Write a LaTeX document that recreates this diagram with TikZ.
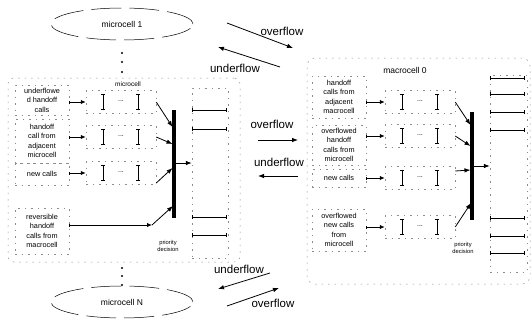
\documentclass[tikz,border=0pt]{standalone}
\usepackage{fontspec}
\setmainfont{Liberation Sans}
\usetikzlibrary{arrows.meta,shapes.geometric}
\begin{document}
\begin{tikzpicture}[x=1pt,y=-1pt,
  faint/.style={draw=black!45, line width=0.5pt, dash pattern=on 1.5pt off 5pt},
  lblbox/.style={faint, align=center, font=\fontsize{7.3}{9.4}\selectfont, inner sep=1pt, minimum width=54pt},
  qbox/.style={faint, minimum width=70pt, minimum height=23pt},
  flow/.style={font=\fontsize{11.5}{13}\selectfont},
  arr/.style={-{Latex[length=6pt,width=4.5pt]}, line width=0.8pt},
  inarr/.style={{Bar[width=3pt]}-{Latex[length=5pt,width=4.5pt]}, line width=0.9pt},
  srv/.style={{Bar[width=4pt]}-{Bar[width=4pt]}, line width=0.9pt},
  qbar/.style={{Bar[width=4pt]}-{Bar[width=4pt]}, line width=0.9pt},
  small/.style={font=\fontsize{5.8}{7.5}\selectfont, align=center},
  ell/.style={ellipse, draw, line width=0.5pt, dash pattern=on 30pt off 8pt, minimum width=142pt, minimum height=32pt, font=\fontsize{8.5}{10}\selectfont},
  dot/.style={circle, fill, inner sep=0pt, minimum size=2.4pt},
  thick bar/.style={fill, inner sep=0pt, minimum width=3.5pt},
  queue/.pic={
    \node[qbox] (-box) at (0,0) {};
    \draw[qbar] (-18,-8) -- (-18,8);
    \draw[qbar] (17,-8) -- (17,8);
    \node[font=\fontsize{7}{7}\selectfont] (-dots) at (0,-1) {...};
  }
]
\useasboundingbox (0,0) rectangle (531,324);

% ---------- microcells (ellipses) ----------
\node[ell] (mc1) at (122,24) {microcell 1};
\node[ell] (mcN) at (122,302) {microcell N};
\node[dot] (da1) at (122,53) {};
\node[dot] (da2) at (122,62) {};
\node[dot] (da3) at (122,72) {};
\node[dot] (db1) at (122,268) {};
\node[dot] (db2) at (122,276) {};
\node[dot] (db3) at (122,285) {};

% ---------- microcell block ----------
\node[faint, rounded corners=6pt, minimum width=232pt, minimum height=184pt] (micro) at (124,170) {};
\node[font=\fontsize{6.5}{8}\selectfont] (microlbl) at (128,84) {microcell};

\node[lblbox, minimum height=30pt] (l1) at (42,100) {underflowe\\d handoff\\calls};
\node[lblbox, minimum height=44pt] (l2) at (42,141) {handoff\\call from\\adjacent\\microcell};
\node[lblbox, minimum height=22pt] (l3) at (42,174) {new calls};
\node[lblbox, minimum height=46pt] (l4) at (42,231) {reversible\\handoff\\calls from\\macrocell};

\pic (q1) at (121,102) {queue};
\pic (q2) at (121,137) {queue};
\pic (q3) at (121,173) {queue};

\draw[inarr] (l1.east |- q1-box.west) -- (q1-box.west);
\draw[inarr] (l2.east |- q2-box.west) -- (q2-box.west);
\draw[inarr] (l3.east |- q3-box.west) -- (q3-box.west);

\node[thick bar, minimum height=108pt] (bar1) at (174,164) {};
\coordinate (b1a) at (172.5,127);
\coordinate (b1b) at (172.5,144);
\coordinate (b1c) at (172.5,168);
\coordinate (b1d) at (173,206);
\coordinate (k1) at (152,225);
\draw[arr] (q1-box.east) -- (b1a);
\draw[arr] (q2-box.east) -- (b1b);
\draw[arr] ([yshift=-10pt]q3-box.east) -- (b1c);
\draw[inarr] (l4.east |- k1) -- (k1);
\draw[arr] (k1) -- (b1d);

\node[faint, minimum width=36pt, minimum height=170pt] (srv1) at (210,173) {};
\draw[arr] (bar1.east |- 0,163) -- (srv1.west |- 0,163);
\draw[srv] (192,110) -- (227,110);
\draw[srv] (192,129) -- (227,129);
\draw[srv] (192,217) -- (227,217);
\draw[srv] (192,235) -- (227,235);
\node[small] (pd1) at (168,246) {priority\\decision};

% ---------- overflow / underflow ----------
\coordinate (o1s) at (227,23);  \coordinate (o1e) at (293,48);
\draw[arr] (o1s) -- (o1e);
\node[flow] (o1l) at (282,31) {overflow};
\coordinate (u1s) at (280,67);  \coordinate (u1e) at (218,47);
\draw[arr] (u1s) -- (u1e);
\node[flow] (u1l) at (235,68) {underflow};

\coordinate (o2s) at (258,140); \coordinate (o2e) at (298,140);
\draw[arr] (o2s) -- (o2e);
\node[flow] (o2l) at (272,124) {overflow};
\coordinate (u2s) at (298,176); \coordinate (u2e) at (258,176);
\draw[arr] (u2s) -- (u2e);
\node[flow] (u2l) at (279,162) {underflow};

\coordinate (u3s) at (270,273); \coordinate (u3e) at (218,289);
\draw[arr] (u3s) -- (u3e);
\node[flow] (u3l) at (239,269) {underflow};
\coordinate (o3s) at (227,306); \coordinate (o3e) at (279,288);
\draw[arr] (o3s) -- (o3e);
\node[flow] (o3l) at (273,303) {overflow};

% ---------- macrocell block ----------
\node[faint, rounded corners=8pt, minimum width=223pt, minimum height=226pt] (macro) at (418.5,171) {};
\node[font=\fontsize{8.5}{10}\selectfont] (macrolbl) at (405,70) {macrocell 0};

\node[lblbox, minimum height=42pt] (r1) at (339,97) {handoff\\calls from\\adjacent\\macrocell};
\node[lblbox, minimum height=40pt] (r2) at (339,145) {overflowed\\handoff\\calls from\\microcell};
\node[lblbox, minimum height=18pt] (r3) at (339,178) {new calls};
\node[lblbox, minimum height=42pt] (r4) at (339,230) {overflowed\\new calls\\from\\microcell};

\pic (p1) at (420,102) {queue};
\pic (p2) at (420,136) {queue};
\pic (p3) at (420,178) {queue};
\pic (p4) at (420,227) {queue};

\draw[inarr] (r1.east |- p1-box.west) -- (p1-box.west);
\draw[inarr] (r2.east |- p2-box.west) -- (p2-box.west);
\draw[inarr] (r3.east |- p3-box.west) -- (p3-box.west);
\draw[inarr] (r4.east |- p4-box.west) -- (p4-box.west);

\node[thick bar, minimum height=108pt] (bar2) at (472,166) {};
\coordinate (b2a) at (470.5,125);
\coordinate (b2b) at (470.5,146);
\coordinate (b2c) at (470.5,170);
\coordinate (b2d) at (471,203);
\draw[arr] (p1-box.east) -- (b2a);
\draw[arr] (p2-box.east) -- (b2b);
\draw[arr] ([yshift=7pt]p3-box.east) -- (b2c);
\draw[arr] (p4-box.east) -- (b2d);

\node[faint, minimum width=37pt, minimum height=197pt] (srv2) at (508.5,173.5) {};
\draw[arr] (bar2.east |- 0,166) -- (srv2.west |- 0,166);
\draw[srv] (490,78) -- (525,78);
\draw[srv] (490,94) -- (525,94);
\draw[srv] (490,112) -- (525,112);
\draw[srv] (490,130) -- (525,130);
\draw[srv] (490,218) -- (525,218);
\draw[srv] (490,236) -- (525,236);
\draw[srv] (490,253) -- (525,253);
\node[small] (pd2) at (463,248) {priority\\decision};
\end{tikzpicture}
\end{document}
